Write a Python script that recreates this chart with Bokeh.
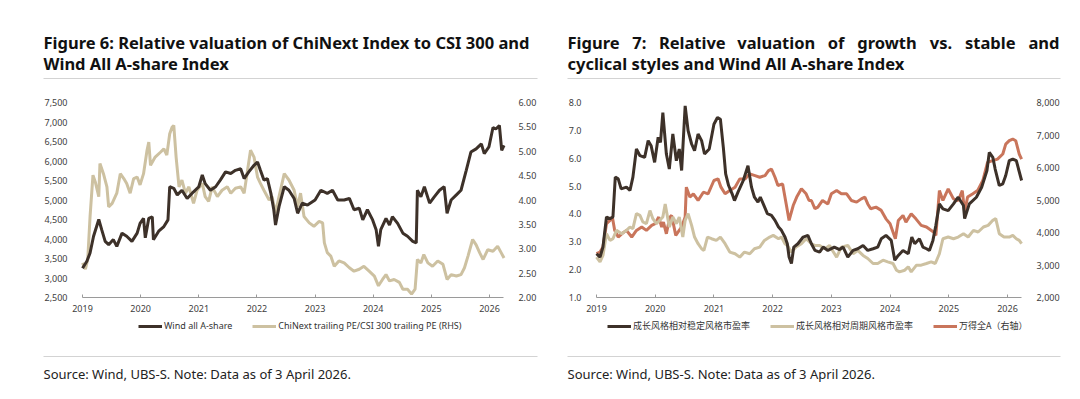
from bokeh.plotting import figure
from bokeh.layouts import row
from bokeh.models import (Range1d, LinearAxis, FixedTicker, Legend, LegendItem,
                          NumeralTickFormatter, Label, Arrow)
from bokeh.embed import file_html
from bokeh.resources import INLINE

# ---------------- DATA ----------------
years = [2019, 2020, 2021, 2022, 2023, 2024, 2025, 2026]
x_first, x_last = 2019.0, 2026.25   # data span (to 3 April 2026)

# Figure 6: Wind All A-share (LHS)
f6_wind_x = [2019.00, 2019.075, 2019.13, 2019.19, 2019.28, 2019.33, 2019.39, 2019.45, 2019.53, 2019.59,
             2019.68, 2019.76, 2019.85, 2019.94, 2019.99, 2020.05, 2020.08, 2020.14, 2020.20, 2020.22,
             2020.31, 2020.40, 2020.47, 2020.50, 2020.57, 2020.63, 2020.71, 2020.80, 2020.91, 2021.00,
             2021.06, 2021.11, 2021.20, 2021.29, 2021.37, 2021.46, 2021.55, 2021.63, 2021.72, 2021.78,
             2021.86, 2021.95, 2022.01, 2022.06, 2022.12, 2022.18, 2022.24, 2022.29, 2022.32, 2022.38,
             2022.47, 2022.55, 2022.64, 2022.70, 2022.78, 2022.87, 2023.00, 2023.10, 2023.21, 2023.30,
             2023.39, 2023.50, 2023.59, 2023.67, 2023.76, 2023.82, 2023.90, 2023.99, 2024.05, 2024.09,
             2024.13, 2024.22, 2024.28, 2024.33, 2024.42, 2024.51, 2024.59, 2024.68, 2024.74, 2024.76,
             2024.82, 2024.88, 2024.97, 2025.05, 2025.14, 2025.22, 2025.27, 2025.34, 2025.43, 2025.51,
             2025.60, 2025.68, 2025.77, 2025.86, 2025.91, 2025.99, 2026.06, 2026.11, 2026.17, 2026.21,
             2026.25]
f6_wind_y = [3250, 3430, 3640, 4070, 4500, 4240, 3940, 3855, 3985, 3810,
             4150, 4070, 3940, 4150, 4400, 4530, 4030, 4530, 4570, 3980,
             4200, 4320, 4490, 5340, 5300, 5130, 5250, 5040, 5210, 5340,
             5640, 5420, 5250, 5340, 5510, 5720, 5680, 5760, 5800, 5550,
             5720, 5890, 5975, 5760, 5510, 5550, 5170, 4750, 4360, 4830,
             5340, 5250, 5040, 4660, 4920, 4870, 5000, 5250, 5170, 5250,
             5000, 5000, 5040, 4750, 4790, 4490, 4750, 4490, 4240, 3810,
             4240, 4530, 4360, 4570, 4400, 4150, 4070, 3940, 3900, 5250,
             5080, 5340, 4920, 5080, 5250, 5340, 4660, 5000, 5130, 5250,
             5760, 6230, 6310, 6440, 6190, 6360, 6860, 6820, 6910, 6270,
             6400]

# Figure 6: ChiNext trailing PE / CSI 300 trailing PE (RHS)
f6_ratio_x = [2019.00, 2019.05, 2019.09, 2019.13, 2019.18, 2019.22, 2019.28, 2019.30, 2019.36, 2019.42,
              2019.45, 2019.51, 2019.59, 2019.65, 2019.71, 2019.76, 2019.82, 2019.88, 2019.94, 2019.99,
              2020.05, 2020.11, 2020.14, 2020.17, 2020.25, 2020.34, 2020.40, 2020.45, 2020.50, 2020.54,
              2020.57, 2020.61, 2020.66, 2020.71, 2020.77, 2020.83, 2020.91, 2020.97, 2021.06, 2021.11,
              2021.17, 2021.23, 2021.32, 2021.40, 2021.49, 2021.55, 2021.63, 2021.72, 2021.78, 2021.83,
              2021.89, 2021.95, 2022.01, 2022.06, 2022.12, 2022.21, 2022.26, 2022.32, 2022.38, 2022.47,
              2022.55, 2022.64, 2022.70, 2022.75, 2022.81, 2022.90, 2022.98, 2023.07, 2023.13, 2023.16,
              2023.21, 2023.27, 2023.33, 2023.41, 2023.50, 2023.59, 2023.67, 2023.76, 2023.84, 2023.93,
              2024.02, 2024.09, 2024.16, 2024.22, 2024.28, 2024.36, 2024.45, 2024.51, 2024.59, 2024.66,
              2024.72, 2024.76, 2024.82, 2024.87, 2024.94, 2025.02, 2025.11, 2025.20, 2025.27, 2025.34,
              2025.43, 2025.51, 2025.57, 2025.63, 2025.71, 2025.77, 2025.83, 2025.89, 2025.97, 2026.06,
              2026.14, 2026.20, 2026.25]
f6_ratio_y = [2.71, 2.58, 2.78, 3.66, 4.51, 4.37, 4.07, 4.75, 4.54, 4.27,
              3.86, 3.93, 4.14, 4.54, 4.44, 4.34, 4.14, 4.44, 4.47, 4.31,
              4.54, 5.02, 5.19, 4.71, 4.88, 4.98, 5.05, 4.92, 5.36, 5.49,
              5.53, 4.88, 4.27, 4.41, 4.14, 4.27, 3.93, 4.20, 4.34, 4.07,
              3.97, 4.27, 4.07, 4.20, 4.27, 4.14, 4.24, 4.27, 4.14, 4.54,
              5.02, 4.88, 4.47, 4.34, 4.20, 4.00, 4.07, 3.73, 4.07, 4.54,
              4.41, 4.20, 3.86, 4.14, 3.66, 3.53, 3.46, 3.56, 3.53, 3.12,
              2.92, 2.85, 2.64, 2.75, 2.71, 2.61, 2.54, 2.58, 2.64, 2.54,
              2.44, 2.24, 2.37, 2.47, 2.34, 2.37, 2.31, 2.17, 2.17, 2.07,
              2.17, 2.78, 2.71, 2.88, 2.71, 2.64, 2.75, 2.68, 2.37, 2.47,
              2.44, 2.47, 2.61, 2.85, 3.19, 3.08, 2.92, 2.78, 2.98, 2.95,
              3.05, 2.92, 2.81]

# Figure 7: growth vs stable PE (LHS)
f7_stable_x = [2019.00, 2019.06, 2019.11, 2019.17, 2019.23, 2019.28, 2019.32, 2019.37, 2019.42, 2019.51,
               2019.57, 2019.62, 2019.68, 2019.74, 2019.82, 2019.88, 2019.93, 2019.99, 2020.05, 2020.09,
               2020.13, 2020.19, 2020.24, 2020.30, 2020.36, 2020.41, 2020.45, 2020.51, 2020.56, 2020.62,
               2020.67, 2020.73, 2020.79, 2020.84, 2020.92, 2021.00, 2021.06, 2021.11, 2021.16, 2021.20,
               2021.25, 2021.31, 2021.35, 2021.41, 2021.50, 2021.58, 2021.64, 2021.69, 2021.75, 2021.79,
               2021.84, 2021.91, 2021.98, 2022.04, 2022.10, 2022.15, 2022.21, 2022.25, 2022.28, 2022.32,
               2022.36, 2022.43, 2022.52, 2022.60, 2022.66, 2022.72, 2022.80, 2022.86, 2022.94, 2023.05,
               2023.14, 2023.20, 2023.28, 2023.37, 2023.45, 2023.54, 2023.62, 2023.71, 2023.79, 2023.85,
               2023.93, 2024.02, 2024.08, 2024.14, 2024.22, 2024.31, 2024.37, 2024.42, 2024.50, 2024.56,
               2024.62, 2024.67, 2024.73, 2024.78, 2024.84, 2024.90, 2024.99, 2025.08, 2025.16, 2025.25,
               2025.27, 2025.35, 2025.47, 2025.56, 2025.65, 2025.69, 2025.75, 2025.79, 2025.86, 2025.92,
               2025.97, 2026.03, 2026.09, 2026.15, 2026.24]
f7_stable_y = [2.57, 2.45, 2.81, 3.89, 3.83, 3.89, 5.32, 5.26, 4.90, 4.96,
               4.84, 5.32, 6.33, 6.09, 6.03, 6.63, 6.45, 5.85, 6.75, 6.57,
               7.64, 6.15, 5.61, 6.87, 5.91, 6.33, 5.56, 7.88, 6.99, 6.51,
               6.27, 6.87, 6.63, 6.15, 6.33, 7.22, 7.46, 7.40, 6.39, 5.44,
               5.02, 4.72, 4.48, 4.78, 5.20, 5.73, 4.96, 4.60, 4.42, 4.60,
               4.36, 4.01, 3.95, 3.77, 3.53, 3.41, 3.17, 2.93, 2.45, 2.22,
               2.81, 2.93, 3.17, 3.23, 2.93, 2.69, 2.63, 2.81, 2.69, 2.81,
               2.72, 2.81, 2.45, 2.69, 2.75, 2.87, 2.69, 2.75, 2.81, 3.11,
               3.23, 3.05, 2.34, 2.51, 2.69, 2.57, 3.17, 2.93, 3.11, 2.81,
               2.75, 2.69, 3.05, 3.59, 4.36, 4.18, 4.12, 4.36, 4.60, 4.30,
               3.83, 4.36, 4.60, 4.96, 5.56, 6.21, 6.03, 5.61, 5.02, 5.08,
               5.38, 5.91, 5.97, 5.91, 5.20]

# Figure 7: growth vs cyclical PE (LHS)
f7_cyc_x = [2019.00, 2019.06, 2019.11, 2019.17, 2019.23, 2019.28, 2019.34, 2019.43, 2019.51, 2019.57,
            2019.62, 2019.68, 2019.74, 2019.79, 2019.85, 2019.91, 2019.96, 2020.02, 2020.13, 2020.17,
            2020.24, 2020.30, 2020.36, 2020.41, 2020.47, 2020.51, 2020.56, 2020.62, 2020.67, 2020.73,
            2020.79, 2020.83, 2020.89, 2020.96, 2021.04, 2021.11, 2021.19, 2021.27, 2021.36, 2021.44,
            2021.52, 2021.61, 2021.69, 2021.78, 2021.86, 2021.95, 2022.01, 2022.10, 2022.15, 2022.21,
            2022.25, 2022.32, 2022.40, 2022.49, 2022.57, 2022.66, 2022.72, 2022.80, 2022.89, 2022.97,
            2023.00, 2023.09, 2023.17, 2023.28, 2023.37, 2023.45, 2023.54, 2023.62, 2023.71, 2023.79,
            2023.88, 2023.96, 2024.05, 2024.11, 2024.16, 2024.25, 2024.31, 2024.36, 2024.45, 2024.53,
            2024.62, 2024.70, 2024.77, 2024.84, 2024.90, 2024.99, 2025.08, 2025.16, 2025.25, 2025.33,
            2025.42, 2025.50, 2025.59, 2025.67, 2025.75, 2025.80, 2025.86, 2025.94, 2026.03, 2026.09,
            2026.15, 2026.20, 2026.24]
f7_cyc_y = [2.45, 2.28, 2.51, 3.29, 3.05, 3.11, 3.41, 3.29, 3.41, 3.53,
            3.47, 4.01, 3.95, 3.71, 3.65, 4.12, 3.83, 3.65, 3.89, 4.36,
            3.53, 3.89, 3.65, 3.89, 3.17, 3.77, 4.01, 3.59, 3.17, 2.93,
            2.75, 2.69, 3.17, 3.11, 3.05, 3.17, 2.93, 2.63, 2.57, 2.45,
            2.63, 2.57, 2.75, 2.81, 3.05, 3.17, 3.23, 3.11, 3.17, 2.93,
            2.87, 2.63, 2.81, 2.93, 3.11, 2.93, 2.87, 2.87, 2.75, 2.87,
            2.75, 2.45, 2.81, 2.87, 2.57, 2.69, 2.51, 2.40, 2.22, 2.22,
            2.34, 2.28, 2.22, 1.98, 1.92, 1.98, 2.10, 1.92, 2.16, 2.16,
            2.22, 2.28, 2.22, 2.57, 3.11, 3.17, 3.11, 3.17, 3.29, 3.17,
            3.41, 3.35, 3.53, 3.59, 3.77, 3.83, 3.29, 3.17, 3.17, 3.23,
            3.11, 3.05, 2.93]

# Figure 7: Wind All A (RHS)
f7_wind_x = [2019.00, 2019.06, 2019.11, 2019.17, 2019.23, 2019.27, 2019.31, 2019.37, 2019.43, 2019.51,
             2019.60, 2019.68, 2019.77, 2019.85, 2019.94, 2020.00, 2020.06, 2020.11, 2020.14, 2020.19,
             2020.25, 2020.28, 2020.35, 2020.45, 2020.51, 2020.53, 2020.59, 2020.65, 2020.73, 2020.82,
             2020.90, 2021.00, 2021.07, 2021.12, 2021.19, 2021.27, 2021.36, 2021.44, 2021.53, 2021.61,
             2021.70, 2021.78, 2021.87, 2021.93, 2021.98, 2022.04, 2022.09, 2022.17, 2022.23, 2022.28,
             2022.35, 2022.41, 2022.49, 2022.57, 2022.62, 2022.66, 2022.72, 2022.77, 2022.85, 2022.94,
             2023.00, 2023.09, 2023.17, 2023.26, 2023.34, 2023.43, 2023.51, 2023.57, 2023.62, 2023.67,
             2023.76, 2023.85, 2023.93, 2024.00, 2024.09, 2024.14, 2024.22, 2024.27, 2024.36, 2024.44,
             2024.53, 2024.62, 2024.74, 2024.78, 2024.84, 2024.90, 2024.99, 2025.08, 2025.16, 2025.23,
             2025.27, 2025.32, 2025.41, 2025.49, 2025.58, 2025.66, 2025.75, 2025.83, 2025.92, 2025.97,
             2026.03, 2026.09, 2026.14, 2026.20, 2026.24]
f7_wind_y = [3350, 3400, 3555, 4270, 4370, 4475, 4065, 3860, 3960, 4065,
             3860, 4065, 4170, 4065, 4220, 4270, 4475, 4170, 4320, 3960,
             4475, 4525, 3910, 4170, 4475, 5395, 5090, 5190, 4985, 5240,
             5190, 5600, 5650, 5395, 5190, 5290, 5395, 5650, 5650, 5805,
             5750, 5700, 5750, 5905, 5955, 5700, 5445, 5495, 4885, 4370,
             4830, 5090, 5345, 5190, 4985, 4985, 4730, 4780, 4985, 4880,
             5190, 5290, 5190, 5190, 4985, 4935, 5035, 5090, 4880, 4730,
             4780, 4680, 4420, 4270, 3810, 4370, 4525, 4320, 4575, 4420,
             4220, 4170, 4015, 3910, 5290, 4985, 5340, 5035, 4985, 5290,
             4625, 5090, 5190, 5290, 5600, 6160, 6210, 6260, 6415, 6720,
             6825, 6875, 6825, 6415, 6260]

f6_left_ticks = [2500, 3000, 3500, 4000, 4500, 5000, 5500, 6000, 6500, 7000, 7500]
f6_right_ticks = [2.0, 2.5, 3.0, 3.5, 4.0, 4.5, 5.0, 5.5, 6.0]
f7_left_ticks = [1, 2, 3, 4, 5, 6, 7, 8]
f7_right_ticks = [2000, 3000, 4000, 5000, 6000, 7000, 8000]

f6_title = ["Figure 6: Relative valuation of ChiNext Index to CSI 300 and", "Wind All A-share Index"]
f7_title_words = ["Figure", "7:", "Relative", "valuation", "of", "growth", "vs.", "stable", "and"]
f7_title_line2 = "cyclical styles and Wind All A-share Index"
f6_labels = ["Wind all A-share", "ChiNext trailing PE/CSI 300 trailing PE (RHS)"]
f7_labels = ["成长风格相对稳定风格市盈率", "成长风格相对周期风格市盈率", "万得全A（右轴）"]
source_text = "Source: Wind, UBS-S. Note: Data as of 3 April 2026."

# ---------------- STYLE / LAYOUT (pixels) ----------------
DARK = "#3d3129"
BEIGE = "#cdc1a1"
ORANGE = "#c9755b"
FONT = "Noto Sans"
CJK = "Noto Sans CJK SC"
TICK_COLOR = "#404040"
TITLE_SIZE = "16.5px"
W, H = 540, 399
PY_TOP, PY_BOT = 102, 297          # pixel rows of the top / bottom y ticks
# Label rows (screen units: distance from the bottom of the canvas)
Y_T1, Y_T2, Y_SEP1 = H - 42, H - 63, H - 78
Y_LEG, Y_SEP2, Y_SRC = H - 332, H - 356, H - 373


def xrange_for(px2019, px2026):
    k = (px2026 - px2019) / 7.0
    start = 2019 - px2019 / k
    return Range1d(start, start + W / k)


def yrange_for(v_top, v_bot):
    per = (v_top - v_bot) / (PY_BOT - PY_TOP)
    return Range1d(v_bot - (H - PY_BOT) * per, v_top + PY_TOP * per)


def style_yaxis(ax, ticks, fmt, loc):
    ax.fixed_location = loc
    ax.ticker = FixedTicker(ticks=ticks)
    ax.formatter = NumeralTickFormatter(format=fmt)
    ax.axis_line_color = None
    ax.major_tick_line_color = None
    ax.minor_tick_line_color = None
    ax.major_label_standoff = 9
    ax.major_label_text_font = FONT
    ax.major_label_text_font_size = "9px"
    ax.major_label_text_color = TICK_COLOR


def chart(px2019, px2026, yl, yr, lticks, lfmt, rticks, rfmt):
    p = figure(width=W, height=H, x_range=xrange_for(px2019, px2026),
               y_range=yrange_for(yl[1], yl[0]),
               output_backend="svg", toolbar_location=None, min_border=0)
    p.extra_y_ranges = {"r": yrange_for(yr[1], yr[0])}
    p.add_layout(LinearAxis(y_range_name="r"), "right")
    p.xgrid.visible = False
    p.ygrid.visible = False
    p.outline_line_color = None
    style_yaxis(p.yaxis[0], lticks, lfmt, x_first)
    style_yaxis(p.yaxis[1], rticks, rfmt, 2026.24)
    xa = p.xaxis[0]
    xa.fixed_location = yl[0]
    xa.bounds = (x_first, 2026.24)
    xa.ticker = FixedTicker(ticks=years)
    xa.formatter = NumeralTickFormatter(format="0")
    xa.axis_line_color = "#9a9a9a"
    xa.major_tick_line_color = "#9a9a9a"
    xa.major_tick_in = 3
    xa.major_tick_out = 0
    xa.minor_tick_line_color = None
    xa.major_label_standoff = 7
    xa.major_label_text_font = FONT
    xa.major_label_text_font_size = "9px"
    xa.major_label_text_color = TICK_COLOR
    return p


def label(p, x, y, text, size, bold=False, align="left", font=FONT, color="#111111"):
    p.add_layout(Label(x=x, y=y, x_units="screen", y_units="screen", text=text,
                       text_font=font, text_font_size=size,
                       text_font_style="bold" if bold else "normal",
                       text_baseline="middle", text_align=align, text_color=color))


def hline(p, x0, x1, y):
    p.add_layout(Arrow(start=None, end=None, x_start=x0, y_start=y, x_end=x1, y_end=y,
                       start_units="screen", end_units="screen",
                       line_color="#d3d3d3", line_width=1))


def legend(p, items, font, x):
    lg = Legend(items=items, orientation="horizontal", location=(x, Y_LEG),
                glyph_width=24, glyph_height=10, label_standoff=2, spacing=20,
                padding=0, margin=0, border_line_color=None, background_fill_alpha=0,
                label_text_font=font, label_text_font_size="9px", label_text_color="#333333",
                label_height=12)
    p.add_layout(lg, "center")


# ---------------- FIGURE 6 ----------------
c6 = chart(82, 489, (2500, 7500), (2, 6), f6_left_ticks, "0,0", f6_right_ticks, "0.00")
r6b = c6.line(f6_ratio_x, f6_ratio_y, y_range_name="r", line_color=BEIGE, line_width=3)
r6a = c6.line(f6_wind_x, f6_wind_y, line_color=DARK, line_width=3)
legend(c6, [LegendItem(label=f6_labels[0], renderers=[r6a]),
            LegendItem(label=f6_labels[1], renderers=[r6b])], FONT, 138)
label(c6, 43, Y_T1, f6_title[0], TITLE_SIZE, bold=True)
label(c6, 43, Y_T2, f6_title[1], TITLE_SIZE, bold=True)
hline(c6, 43, 537, Y_SEP1)
hline(c6, 43, 537, Y_SEP2)
label(c6, 43, Y_SRC, source_text, "13px", color="#222222")

# ---------------- FIGURE 7 ----------------
c7 = chart(56, 467, (1, 8), (2000, 8000), f7_left_ticks, "0.0", f7_right_ticks, "0,0")
r7w = c7.line(f7_wind_x, f7_wind_y, y_range_name="r", line_color=ORANGE, line_width=3)
r7c = c7.line(f7_cyc_x, f7_cyc_y, line_color=BEIGE, line_width=3)
r7s = c7.line(f7_stable_x, f7_stable_y, line_color=DARK, line_width=3)
legend(c7, [LegendItem(label=f7_labels[0], renderers=[r7s]),
            LegendItem(label=f7_labels[1], renderers=[r7c]),
            LegendItem(label=f7_labels[2], renderers=[r7w])], CJK, 67)

# justified first title line: first word left-aligned, last right-aligned, others centred
word_pos = [(27, "left"), (98.9, "center"), (151.8, "center"), (235.7, "center"), (295.6, "center"),
            (346.5, "center"), (400.4, "center"), (449.8, "center"), (519, "right")]
for (wx, al), wt in zip(word_pos, f7_title_words):
    label(c7, wx, Y_T1, wt, TITLE_SIZE, bold=True, align=al)
label(c7, 27, Y_T2, f7_title_line2, TITLE_SIZE, bold=True)
hline(c7, 27, 520, Y_SEP1)
hline(c7, 27, 520, Y_SEP2)
label(c7, 27, Y_SRC, source_text, "13px", color="#222222")

layout = row(c6, c7)
open("out.html", "w").write(file_html(layout, INLINE))
